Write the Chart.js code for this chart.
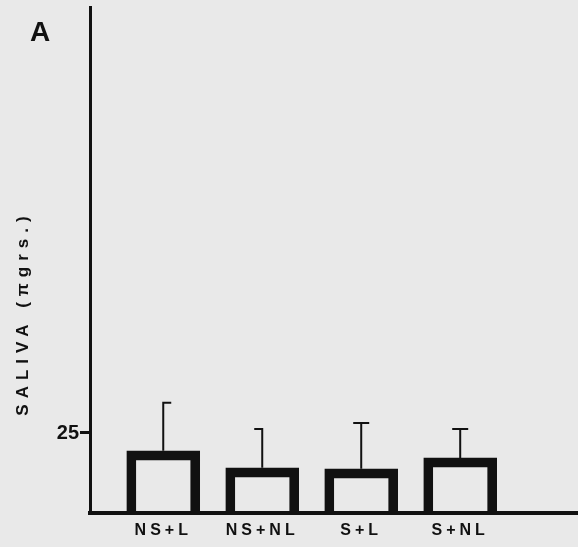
<!DOCTYPE html>
<html>
<head>
<meta charset="utf-8">
<script src="https://cdn.jsdelivr.net/npm/chart.js@4/dist/chart.umd.min.js"></script>
<style>
  html, body { margin: 0; padding: 0; background: #e9e9e9; }
  #wrap { width: 578px; height: 547px; }
</style>
</head>
<body>
<div id="wrap"><canvas id="chart" width="578" height="547"></canvas></div>
<script>
// values
const groups = ['NS+L', 'NS+NL', 'S+L', 'S+NL'];
const positions = [1, 2, 3, 4];
const means = [19.4, 14.1, 13.8, 17.2];
const upperErr = [34.4, 26.2, 28.1, 26.2];
const yTicks = [25];
const yTitle = 'SALIVA (πgrs.)';

const ink = '#111111';
const font = 'Liberation Sans, Arial, sans-serif';

// error bars (caps as drawn in the print)
const capSides = ['right', 'left', 'both', 'both'];
const errorBars = {
  id: 'errorBars',
  afterDatasetsDraw(chart) {
    const { ctx, scales } = chart;
    ctx.save();
    ctx.strokeStyle = ink;
    ctx.lineWidth = 2;
    positions.forEach((p, i) => {
      const x = scales.x.getPixelForValue(p);
      const y0 = scales.y.getPixelForValue(means[i]);
      const y1 = scales.y.getPixelForValue(upperErr[i]);
      ctx.beginPath();
      ctx.moveTo(x, y0);
      ctx.lineTo(x, y1);
      const l = capSides[i] === 'right' ? 1 : 8;
      const r = capSides[i] === 'left' ? 1 : 8;
      ctx.moveTo(x - l, y1);
      ctx.lineTo(x + r, y1);
      ctx.stroke();
    });
    ctx.restore();
  }
};

// panel letter, y tick labels, y title and canvas setup
const panel = {
  id: 'panel',
  beforeDraw(chart) {
    const ctx = chart.ctx;
    ctx.save();
    ctx.fillStyle = '#e9e9e9';
    ctx.fillRect(0, 0, chart.width, chart.height);
    ctx.restore();
    ctx.letterSpacing = '4px';
  },
  afterDraw(chart) {
    const ctx = chart.ctx;
    const y = chart.scales.y;
    ctx.save();
    ctx.fillStyle = ink;
    ctx.letterSpacing = '0px';
    ctx.textBaseline = 'middle';
    ctx.font = 'bold 20px ' + font;
    ctx.textAlign = 'right';
    yTicks.forEach(v => ctx.fillText(String(v), 79, y.getPixelForValue(v) + 1));
    ctx.font = 'bold 28px ' + font;
    ctx.textAlign = 'center';
    ctx.fillText('A', 40, 33);
    ctx.translate(23, 313);
    ctx.rotate(-Math.PI / 2);
    ctx.letterSpacing = '6px';
    ctx.font = 'bold 17px ' + font;
    ctx.fillText(yTitle, 0, 0);
    ctx.restore();
  }
};

new Chart(document.getElementById('chart'), {
  type: 'bar',
  data: {
    datasets: [{
      data: positions.map((p, i) => ({ x: p, y: means[i] })),
      backgroundColor: 'rgba(0,0,0,0)',
      borderColor: ink,
      borderWidth: 9,
      borderSkipped: 'start',
      barThickness: 73
    }]
  },
  options: {
    responsive: false,
    animation: false,
    layout: { padding: { top: 7, right: 0, left: 0, bottom: 0 } },
    plugins: {
      legend: { display: false },
      tooltip: { enabled: false }
    },
    scales: {
      x: {
        type: 'linear',
        offset: false,
        min: 0.26,
        max: 5.19,
        afterBuildTicks: s => { s.ticks = positions.map(v => ({ value: v })); },
        afterFit: s => { s.height = 34; },
        grid: { display: false },
        border: { display: true, color: ink, width: 4 },
        ticks: {
          color: ink,
          padding: 0,
          maxRotation: 0,
          font: { family: font, size: 16, weight: 'bold' },
          callback: v => groups[positions.indexOf(v)] || ''
        }
      },
      y: {
        min: 0,
        max: 158,
        afterBuildTicks: s => { s.ticks = yTicks.map(v => ({ value: v })); },
        afterFit: s => { s.width = 90; },
        grid: { drawOnChartArea: false, drawTicks: true, tickLength: 10, tickWidth: 3, color: ink },
        border: { display: true, color: ink, width: 3 },
        ticks: { display: false }
      }
    }
  },
  plugins: [panel, errorBars]
});
</script>
</body>
</html>
